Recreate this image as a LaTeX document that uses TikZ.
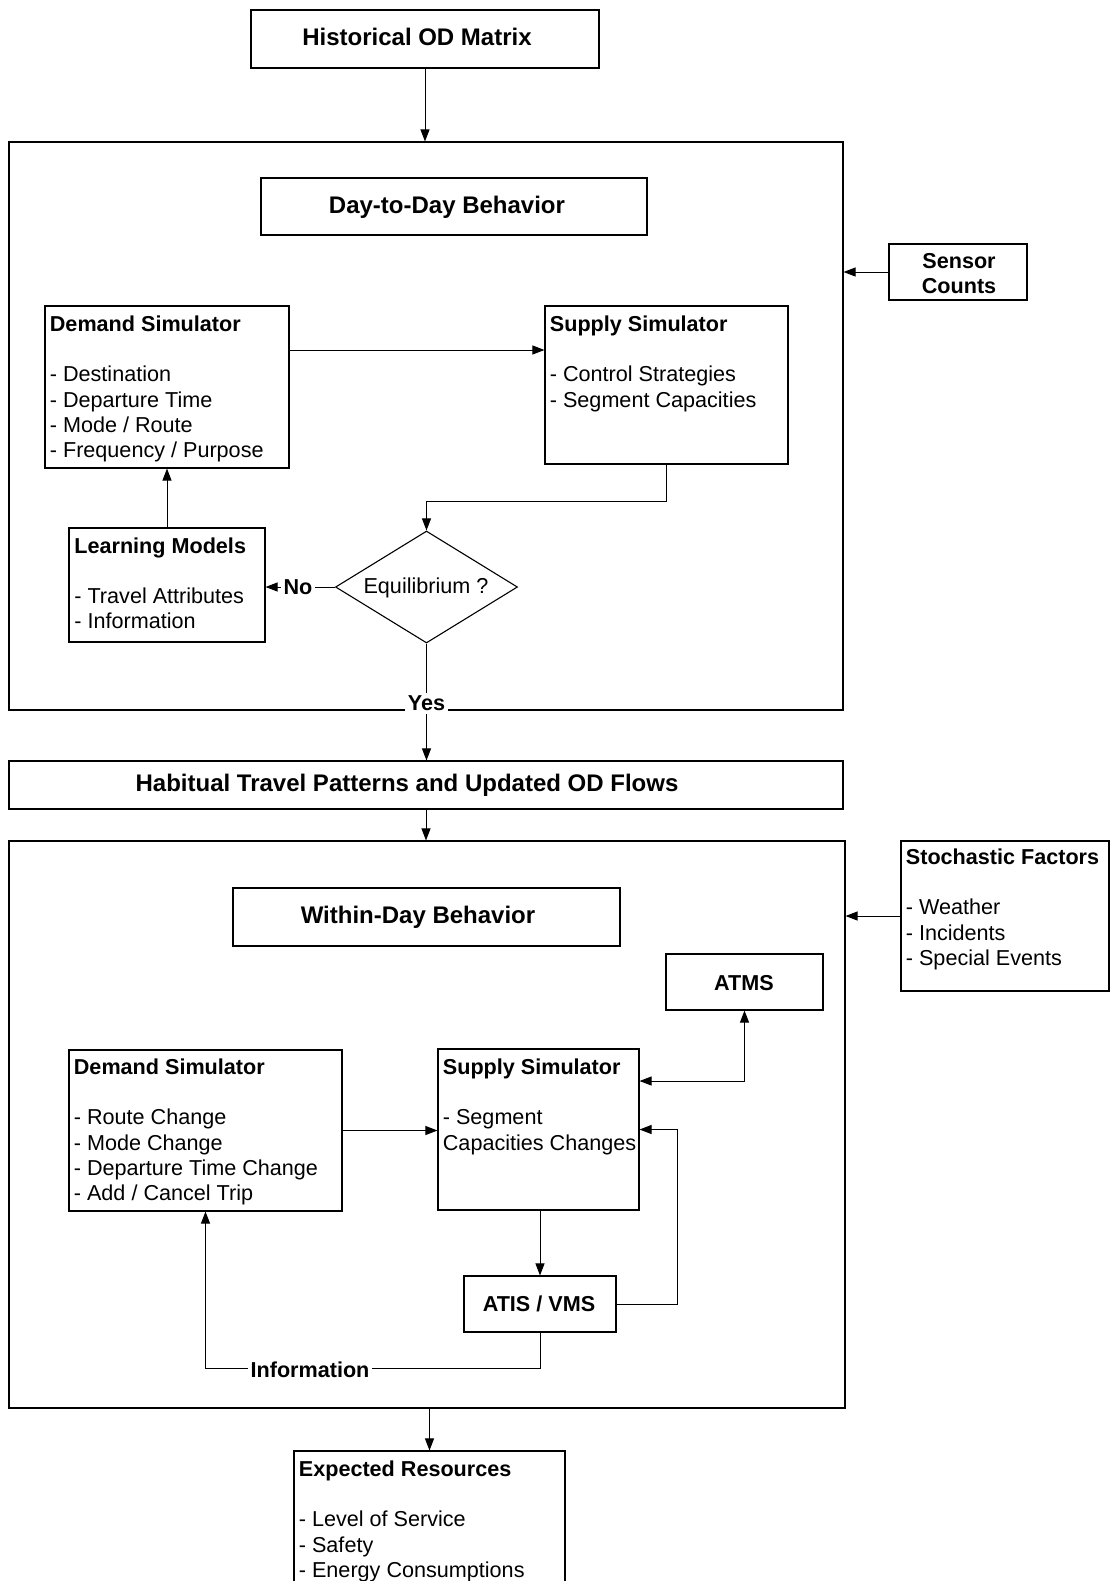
\documentclass[tikz,border=0pt]{standalone}
\usepackage{fontspec}
\setmainfont{Liberation Sans}
\usetikzlibrary{shapes.geometric,arrows.meta,fit}
\begin{document}
\begin{tikzpicture}[x=0.5pt,y=-0.5pt,
  box/.style={draw, line width=0.55pt, inner sep=0pt},
  ttl/.style={font=\fontsize{12}{14}\selectfont\bfseries, inner sep=0pt, anchor=base},
  lbl/.style={font=\fontsize{10.8}{12.6}\selectfont\bfseries, inner sep=0pt, anchor=base},
  lst/.style={font=\fontsize{10.8}{12.6}\selectfont, inner sep=0pt, anchor=base west},
  arr/.style={line width=0.5pt, -{Triangle[length=6pt,width=4.5pt]}},
  arrb/.style={line width=0.5pt, {Triangle[length=6pt,width=4.5pt]}-{Triangle[length=6pt,width=4.5pt]}},
  cut/.style={fill=white, inner sep=1.5pt}
]
\useasboundingbox (0,0) rectangle (1111,1581);
\clip (0,0) rectangle (1111,1581);

% ---------- boxes ----------
\node[box, fit={(251,10) (599,68)}] (hist) {};
\node[box, fit={(9,142) (843,710)}] (d2d) {};
\node[box, fit={(261,178) (647,235)}] (d2dt) {};
\node[box, fit={(889,244) (1027,300)}] (sens) {};
\node[box, fit={(45,306) (289,468)}] (dem1) {};
\node[box, fit={(545,306) (788,464)}] (sup1) {};
\node[box, fit={(69,528) (265,642)}] (lm) {};
\node[draw, diamond, line width=0.55pt, minimum width=91pt, minimum height=56pt, inner sep=0pt] (eq) at (426.5,587) {};
\node[box, fit={(9,761) (843,809)}] (hab) {};
\node[box, fit={(9,841) (845,1408)}] (w2d) {};
\node[box, fit={(233,888) (620,946)}] (w2dt) {};
\node[box, fit={(901,841) (1109,991)}] (stoch) {};
\node[box, fit={(666,954) (823,1010)}] (atms) {};
\node[box, fit={(69,1050) (342,1211)}] (dem2) {};
\node[box, fit={(438,1049) (639,1210)}] (sup2) {};
\node[box, fit={(464,1276) (616,1332)}] (atis) {};
\node[box, fit={(294,1451) (565,1600)}] (exp) {};

% ---------- texts ----------
\node[ttl] (histt) at (417,45) {Historical OD Matrix};
\node[ttl] (d2dl) at (447,213.6) {Day-to-Day Behavior};
\node[lbl] (sensl) at (959,268) {\begin{tabular}[t]{@{}c@{}}Sensor\\Counts\end{tabular}};
\node[lst] (dem1l) at (49.5,331.5) {\begin{tabular}[t]{@{}l@{}}\textbf{Demand Simulator}\\ \\- Destination\\- Departure Time\\- Mode / Route\\- Frequency / Purpose\end{tabular}};
\node[lst] (sup1l) at (549.5,331.5) {\begin{tabular}[t]{@{}l@{}}\textbf{Supply Simulator}\\ \\- Control Strategies\\- Segment Capacities\end{tabular}};
\node[lst] (lml) at (74,553) {\begin{tabular}[t]{@{}l@{}}\textbf{Learning Models}\\ \\- Travel Attributes\\- Information\end{tabular}};
\node[lst, anchor=base] (eql) at (426,593.7) {Equilibrium ?};
\node[ttl] (habl) at (407,791.6) {Habitual Travel Patterns and Updated OD Flows};
\node[ttl] (w2dl) at (418,923.6) {Within-Day Behavior};
\node[lst] (stochl) at (905.5,864.5) {\begin{tabular}[t]{@{}l@{}}\textbf{Stochastic Factors}\\ \\- Weather\\- Incidents\\- Special Events\end{tabular}};
\node[lbl] (atmsl) at (744,990.7) {ATMS};
\node[lst] (dem2l) at (73.5,1074.5) {\begin{tabular}[t]{@{}l@{}}\textbf{Demand Simulator}\\ \\- Route Change\\- Mode Change\\- Departure Time Change\\- Add / Cancel Trip\end{tabular}};
\node[lst] (sup2l) at (442.5,1074.5) {\begin{tabular}[t]{@{}l@{}}\textbf{Supply Simulator}\\ \\- Segment\\Capacities Changes\end{tabular}};
\node[lbl] (atisl) at (539,1311.7) {ATIS / VMS};
\node[lst] (expl) at (298.5,1476.5) {\begin{tabular}[t]{@{}l@{}}\textbf{Expected Resources}\\ \\- Level of Service\\- Safety\\- Energy Consumptions\end{tabular}};

% ---------- connectors ----------
\draw[arr] (hist.south) -- (hist.south |- d2d.north);
\draw[arr] (sens.west) -- (sens.west -| d2d.east);
\draw[arr] (dem1.east |- 0,350) -- (sup1.west |- 0,350);
\draw[arr] (sup1.south) -- ++(0,37) -| (eq.north);
\draw[arr] (eq.west) -- (eq.west -| lm.east);
\draw[arr] (lm.north) -- (lm.north |- dem1.south);
\draw[arr] (eq.south) -- (eq.south |- hab.north);
\draw[arr] (hab.south) -- (hab.south |- w2d.north);
\draw[arr] (stoch.west) -- (stoch.west -| w2d.east);
\draw[arr] (dem2.east) -- (dem2.east -| sup2.west);
\draw[arrb] (atms.south) |- (sup2.east |- 0,1081);
\draw[arr] (atis.north |- sup2.south) -- (atis.north);
\draw[arr] (atis.east) -- ++(61,0) |- (sup2.east);
\draw[arr] (atis.south) -- ++(0,36) -| (dem2.south);
\draw[arr] (exp.north |- w2d.south) -- (exp.north);

% ---------- labels on lines ----------
\node[lbl, cut] (nol) at (298,594.7) {No};
\node[lbl, cut] (yesl) at (426.5,710.7) {Yes};
\node[lbl, cut] (infol) at (310,1377.7) {Information};
\end{tikzpicture}
\end{document}
